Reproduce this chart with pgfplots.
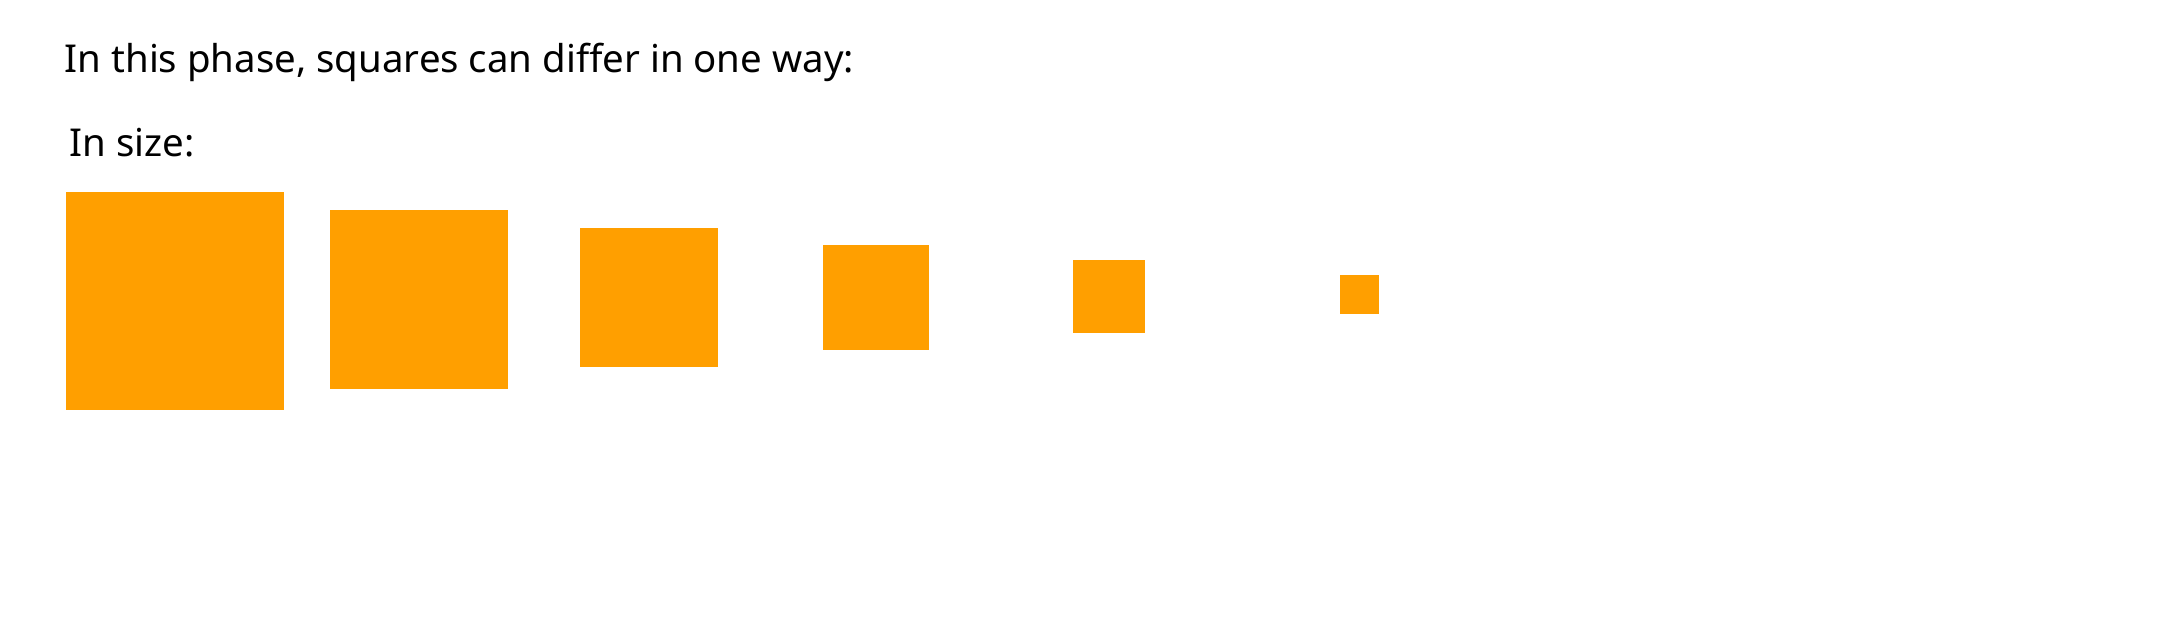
\documentclass[border=0pt]{standalone}
\usepackage{pgfplots}
\pgfplotsset{compat=1.18}
\usepackage{fontspec}
\setmainfont{Noto Sans}
\definecolor{sq}{HTML}{FF9F00}
\begin{document}
\begin{tikzpicture}
\begin{axis}[name=ax, hide axis, scale only axis, width=539.25pt, height=160.25pt,
  xmin=0, xmax=2157, ymin=0, ymax=641, y dir=reverse, clip=false]
\addplot[fill=sq, draw=none] coordinates {(66,192)(284,192)(284,410)(66,410)} --cycle;
\addplot[fill=sq, draw=none] coordinates {(330,210)(508,210)(508,389)(330,389)} --cycle;
\addplot[fill=sq, draw=none] coordinates {(580,228)(718,228)(718,367)(580,367)} --cycle;
\addplot[fill=sq, draw=none] coordinates {(823,245)(929,245)(929,350)(823,350)} --cycle;
\addplot[fill=sq, draw=none] coordinates {(1073,260)(1145,260)(1145,333)(1073,333)} --cycle;
\addplot[fill=sq, draw=none] coordinates {(1340,275)(1379,275)(1379,314)(1340,314)} --cycle;
\node[anchor=base west, inner sep=0pt, font=\fontsize{9.6pt}{11pt}\selectfont] at (axis cs:64,73) {In this phase, squares can differ in one way:};
\node[anchor=base west, inner sep=0pt, font=\fontsize{9.6pt}{11pt}\selectfont] at (axis cs:69,157) {In size:};
\end{axis}
\pgfresetboundingbox
\path[use as bounding box] (ax.south west) rectangle (ax.north east);
\end{tikzpicture}
\end{document}
